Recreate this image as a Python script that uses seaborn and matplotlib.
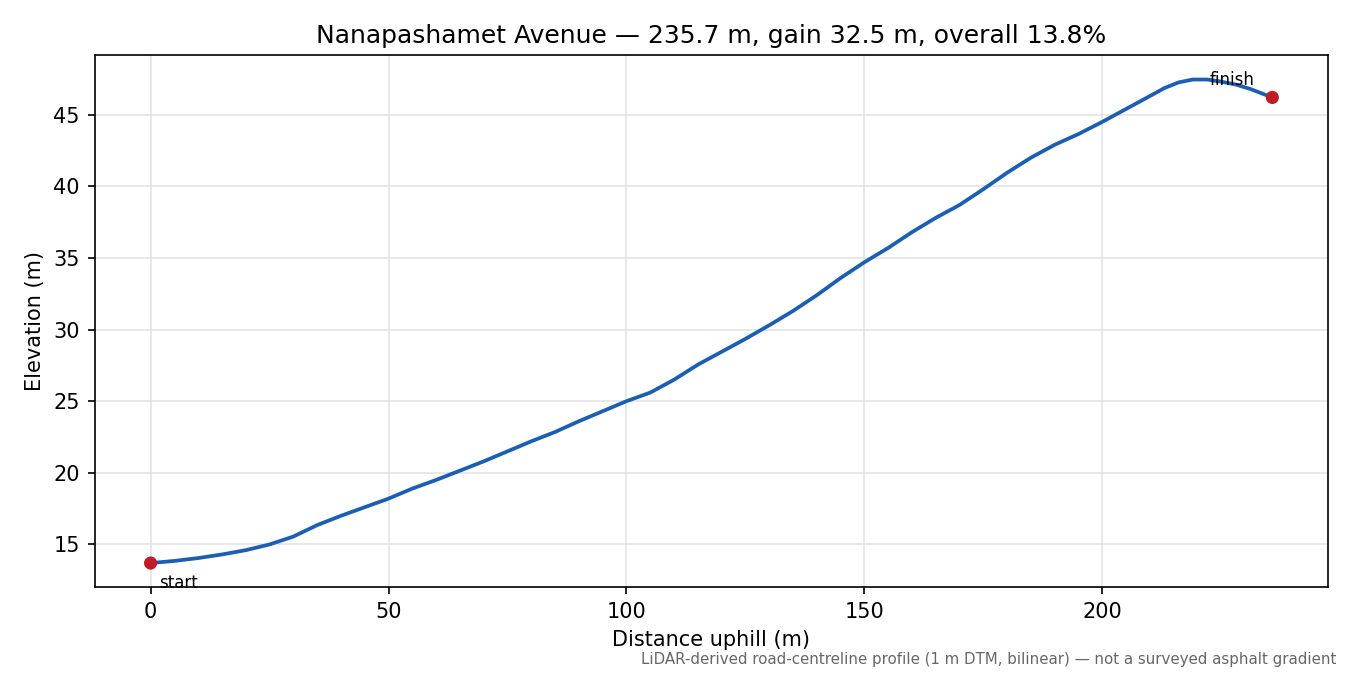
import numpy as np
import pandas as pd
import matplotlib
matplotlib.use('Agg')
import matplotlib.pyplot as plt
import seaborn as sns

# elevation profile
distance_m = [0, 5, 10, 15, 20, 25, 30, 35, 40, 45, 50, 55, 60, 65, 70, 75, 80, 85, 90, 95,
              100, 105, 110, 115, 120, 125, 130, 135, 140, 145, 150, 155, 160, 165, 170, 175,
              180, 185, 190, 195, 200, 205, 210, 213, 216, 219, 222, 225, 228, 231, 235.7]
elevation_m = [13.7, 13.85, 14.05, 14.3, 14.6, 15.0, 15.55, 16.35, 17.0, 17.6, 18.2, 18.9, 19.5,
               20.15, 20.8, 21.5, 22.2, 22.85, 23.6, 24.3, 25.0, 25.6, 26.5, 27.55, 28.45, 29.35,
               30.3, 31.3, 32.4, 33.6, 34.7, 35.7, 36.8, 37.8, 38.7, 39.8, 40.95, 42.0, 42.9,
               43.65, 44.5, 45.4, 46.3, 46.85, 47.25, 47.45, 47.45, 47.3, 47.1, 46.8, 46.2]

title = "Nanapashamet Avenue \u2014 235.7 m, gain 32.5 m, overall 13.8%"
note = "LiDAR-derived road-centreline profile (1 m DTM, bilinear) \u2014 not a surveyed asphalt gradient"

df = pd.DataFrame({'dist': distance_m, 'elev': elevation_m})
ends = df.iloc[[0, -1]]

fig, ax = plt.subplots(figsize=(9, 4.5), dpi=150)
sns.lineplot(data=df, x='dist', y='elev', color='#1a5fb4', linewidth=1.8, ax=ax)
sns.scatterplot(data=ends, x='dist', y='elev', color='#c01c28', s=40, edgecolor='none',
                zorder=3, ax=ax)

ax.annotate('start', (ends['dist'].iloc[0], ends['elev'].iloc[0]),
            xytext=(4, -12), textcoords='offset points', fontsize=8)
ax.annotate('finish', (ends['dist'].iloc[1], ends['elev'].iloc[1]),
            xytext=(-30, 6), textcoords='offset points', fontsize=8)

ax.grid(True, color='#dddddd', linewidth=0.8, alpha=0.8)
ax.set_axisbelow(True)
ax.set_title(title, fontsize=12)
ax.set_xlabel('Distance uphill (m)')
ax.set_ylabel('Elevation (m)')
ax.margins(x=0.05, y=0.05)

fig.subplots_adjust(left=0.07, right=0.984, top=0.918, bottom=0.13)
fig.text(0.99, 0.012, note, ha='right', va='bottom', fontsize=7.2, color='#666666')
fig.savefig('out.png', dpi=150)
